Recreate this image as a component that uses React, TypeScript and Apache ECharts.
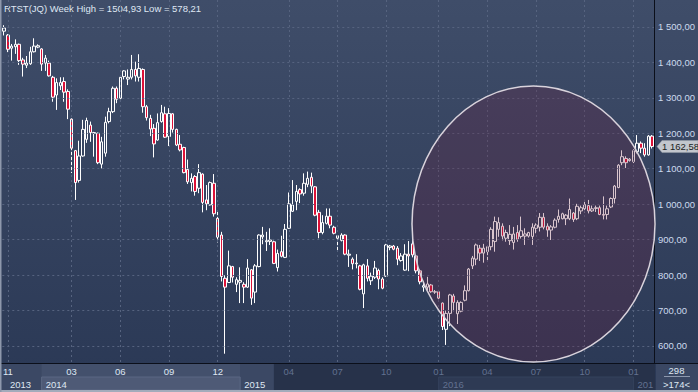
import React, { useEffect, useRef } from 'react';
import * as echarts from 'echarts';

// Weekly candles, index 0 = first visible week (late Oct 2013)
const opens = [
  1488, 1477, 1440, 1444, 1451, 1407, 1392, 1396, 1430, 1443,
  1438, 1398, 1398, 1358, 1308, 1334, 1346, 1318, 1240, 1151,
  1067, 1136, 1183, 1223, 1200, 1200, 1113, 1144, 1233, 1261,
  1327, 1299, 1360, 1353, 1358, 1380, 1358, 1380, 1275, 1242,
  1214, 1181, 1233, 1255, 1191, 1255, 1211, 1169, 1160, 1098,
  1061, 1078, 1045, 1085, 1012, 998, 1059, 960, 913, 791,
  779, 824, 774, 780, 774, 766, 815, 752, 824, 908,
  894, 895, 894, 821, 866, 850, 932, 980, 1008, 1041,
  1031, 1056, 1076, 1049, 977, 920, 946, 966, 935, 904,
  898, 913, 856, 845, 832, 826, 747, 826, 784, 794,
  813, 789, 797, 878, 882, 876, 841, 814, 859, 888,
  854, 812, 766, 766, 772, 752, 753, 721, 647, 692,
  741, 691, 698, 729, 756, 826, 845, 876, 862, 866,
  880, 895, 929, 938, 904, 897, 892, 920, 909, 910,
  910, 909, 932, 935, 963, 938, 927, 935, 957, 959,
  959, 959, 975, 959, 981, 987, 996, 981, 988, 990,
  971, 971, 992, 1016, 1047, 1117, 1129, 1123, 1120, 1148,
  1172, 1158, 1139, 1192,
];
const closes = [
  1497, 1437, 1446, 1451, 1405, 1395, 1398, 1430, 1446, 1447,
  1395, 1412, 1362, 1302, 1343, 1343, 1316, 1268, 1158, 1061,
  1136, 1211, 1236, 1202, 1202, 1117, 1176, 1231, 1261, 1327,
  1296, 1358, 1376, 1358, 1380, 1362, 1383, 1275, 1244, 1212,
  1170, 1230, 1258, 1189, 1256, 1211, 1167, 1153, 1089, 1063,
  1073, 1036, 1089, 1005, 1001, 1061, 973, 907, 796, 766,
  826, 794, 787, 785, 766, 820, 735, 826, 913, 913,
  897, 899, 833, 861, 853, 929, 1001, 998, 1036, 1029,
  1059, 1073, 1051, 969, 920, 948, 966, 941, 918, 911,
  913, 859, 859, 832, 834, 760, 829, 791, 797, 820,
  789, 763, 885, 882, 873, 845, 854, 859, 854, 857,
  812, 781, 770, 775, 753, 753, 735, 655, 692, 744,
  723, 723, 723, 756, 817, 848, 885, 862, 876, 880,
  929, 951, 948, 910, 920, 915, 916, 901, 925, 916,
  920, 935, 941, 963, 935, 927, 936, 955, 966, 973,
  969, 985, 957, 994, 990, 999, 981, 987, 990, 971,
  969, 987, 1016, 1051, 1110, 1134, 1117, 1127, 1151, 1172,
  1158, 1139, 1192, 1162.58,
];
const lows = [
  1476, 1429, 1405, 1424, 1393, 1360, 1384, 1393, 1428, 1440,
  1376, 1376, 1360, 1289, 1266, 1322, 1289, 1240, 1088, 1012,
  1061, 1134, 1173, 1176, 1134, 1113, 1101, 1134, 1228, 1257,
  1285, 1296, 1352, 1336, 1352, 1346, 1346, 1258, 1236, 1192,
  1132, 1179, 1230, 1187, 1164, 1202, 1164, 1149, 1087, 1057,
  1036, 1024, 1031, 977, 983, 996, 965, 892, 782, 578.21,
  779, 779, 752, 721, 721, 764, 716, 721, 822, 887,
  868, 885, 831, 810, 850, 848, 930, 978, 983, 1003,
  1024, 1048, 1031, 966, 904, 915, 943, 932, 915, 866,
  895, 856, 823, 816, 819, 757, 707, 782, 772, 789,
  760, 760, 795, 870, 870, 828, 838, 812, 811, 850,
  805, 774, 753, 758, 750, 747, 732, 645, 603, 656,
  698, 662, 695, 726, 754, 817, 828, 840, 835, 838,
  870, 866, 908, 898, 894, 885, 872, 894, 903, 885,
  906, 885, 918, 923, 929, 908, 899, 932, 948, 957,
  941, 955, 950, 955, 972, 977, 974, 978, 978, 969,
  957, 957, 989, 1002, 1045, 1110, 1102, 1120, 1116, 1143,
  1144, 1134, 1137, 1157,
];
const highs = [
  1504.93, 1480, 1452, 1465, 1453, 1413, 1418, 1444, 1468, 1451,
  1440, 1421, 1405, 1362, 1355, 1358, 1358, 1324, 1242, 1153,
  1179, 1238, 1244, 1233, 1204, 1202, 1190, 1247, 1272, 1332,
  1332, 1360, 1378, 1380, 1421, 1402, 1423, 1383, 1280, 1252,
  1226, 1256, 1280, 1275, 1271, 1257, 1213, 1195, 1162, 1126,
  1087, 1082, 1113, 1087, 1054, 1064, 1085, 983, 922, 800,
  869, 826, 794, 822, 780, 845, 817, 831, 915, 936,
  922, 932, 897, 872, 911, 944, 1033, 1068, 1054, 1045,
  1087, 1092, 1089, 1051, 984, 969, 988, 988, 939, 913,
  918, 915, 872, 850, 859, 829, 832, 845, 807, 840,
  818, 794, 888, 885, 885, 882, 862, 887, 896, 899,
  857, 816, 781, 795, 775, 758, 758, 723, 700, 747,
  747, 729, 726, 771, 820, 854, 889, 885, 888, 883,
  935, 965, 963, 946, 928, 941, 936, 941, 965, 932,
  922, 946, 946, 975, 975, 946, 941, 960, 985, 976,
  972, 1016, 978, 1001, 996, 1012, 1012, 996, 996, 996,
  1022, 996, 1019, 1054, 1113, 1152, 1135, 1130, 1155, 1195,
  1177, 1172, 1195, 1195,
];

// Bottom axis: month ticks (by week index) and year bands
const monthTickIndex = [1, 18, 31, 44, 57, 76, 89, 102, 116, 129, 142, 155, 168];
const monthTickLabel = ['11', '03', '06', '09', '12', '04', '07', '10', '01', '04', '07', '10', '01'];
const yearStartIndex = [10, 63, 116, 168];
const yearLabel = ['2014', '2015', '2016', '201'];
const firstYearLabel = '2013';
const activeEndIndex = 72;
const yTicks = [600, 700, 800, 900, 1000, 1100, 1200, 1300, 1400, 1500];
const totalBars = 298;

const FONT = 'Liberation Sans, Arial, sans-serif';
const BRIGHT = '#dfe7f3';
const DIM = '#627190';

function fmtAxis(v: number): string {
  const [i, d] = v.toFixed(2).split('.');
  return i.replace(/\B(?=(\d{3})+(?!\d))/g, ' ') + ',' + d;
}
function fmtPlain(v: number): string {
  return v.toFixed(2).replace('.', ',');
}

export default function App() {
  const ref = useRef<HTMLDivElement>(null);
  useEffect(() => {
    document.body.style.margin = '0';
    const chart = echarts.init(ref.current!, null, { renderer: 'svg' });
    const cats = opens.map((_, i) => String(i));
    const data = opens.map((o, i) => [o, closes[i], lows[i], highs[i]]);
    const hi = Math.max(...highs);
    const lo = Math.min(...lows);
    const W = 698, H = 392;
    const gridRight = 43, gridBottom = 29;
    const axisX = W - gridRight;
    const axisY = H - gridBottom;

    chart.setOption({
      animation: false,
      backgroundColor: new echarts.graphic.LinearGradient(0, 0, 0, 1, [
        { offset: 0, color: '#3f4d69' },
        { offset: 1, color: '#2a3855' },
      ]),
      title: {
        text: `RTST(JQ) Week High = ${fmtPlain(hi)} Low = ${fmtPlain(lo)}`,
        left: 4,
        top: 3,
        padding: 0,
        textStyle: { color: BRIGHT, fontSize: 9.5, fontWeight: 'normal', fontFamily: FONT },
      },
      grid: { left: 2, right: gridRight, top: 0, bottom: gridBottom },
      xAxis: {
        type: 'category',
        data: cats,
        boundaryGap: true,
        z: 10,
        axisLine: { show: true, lineStyle: { color: '#0b0f1a', width: 1 } },
        axisTick: { show: false, alignWithLabel: true },
        axisLabel: {
          interval: (index: number) => monthTickIndex.includes(index),
          formatter: (_v: string, index: number) => {
            const k = monthTickIndex.indexOf(index);
            return k >= 0 ? monthTickLabel[k] : '';
          },
          color: (v: string) => (Number(v) > activeEndIndex ? DIM : BRIGHT),
          fontSize: 9.5,
          fontFamily: FONT,
          margin: 3,
        },
        splitLine: {
          show: true,
          alignWithLabel: true,
          interval: (index: number) => monthTickIndex.includes(index),
          lineStyle: { color: '#56637f', type: [2, 3], width: 1 },
        },
      },
      yAxis: {
        type: 'value',
        position: 'right',
        min: 552,
        max: 1576,
        z: 10,
        axisLine: { show: true, lineStyle: { color: '#0b0f1a', width: 1 } },
        axisTick: { show: false, customValues: yTicks },
        axisLabel: {
          customValues: yTicks,
          formatter: (v: number) => fmtAxis(v),
          color: '#cddaee',
          fontSize: 9.5,
          fontFamily: FONT,
          margin: 4,
        },
        splitLine: {
          show: true,
          lineStyle: { color: '#56637f', type: [2, 3], width: 1 },
        },
      },
      series: [
        {
          type: 'candlestick',
          data,
          barWidth: 3,
          itemStyle: {
            color: 'rgba(0,0,0,0)',
            color0: '#dc1238',
            borderColor: '#ffffff',
            borderColor0: '#ffffff',
            borderWidth: 1,
          },
        },
      ],
    });

    const px = (i: number) => chart.convertToPixel({ xAxisIndex: 0 }, i) as number;
    const py = (v: number) => chart.convertToPixel({ yAxisIndex: 0 }, v) as number;
    const lastClose = closes[closes.length - 1];
    const ly = py(lastClose);
    const activeEnd = px(activeEndIndex);
    const rowTop = axisY + 1;
    const rowMid = axisY + 14;
    const rowBot = H - 2;

    const g: any[] = [];
    // bottom axis area
    g.push({ type: 'rect', z: 1, shape: { x: 0, y: rowTop, width: axisX, height: rowBot - rowTop }, style: { fill: '#27324a' } });
    g.push({ type: 'rect', z: 1, shape: { x: 0, y: rowTop, width: activeEnd, height: rowBot - rowTop }, style: { fill: '#3b4864' } });
    // year boxes
    const yStarts = yearStartIndex.map((i) => px(i));
    const b2014 = yStarts[0], b2015 = yStarts[1];
    g.push({ type: 'rect', z: 2, shape: { x: b2014, y: rowTop, width: b2015 - b2014, height: rowBot - rowTop }, style: { fill: '#43506c' } });
    g.push({ type: 'rect', z: 2, shape: { x: b2014, y: rowMid, width: b2015 - b2014, height: rowBot - rowMid }, style: { fill: '#4e5a76', stroke: '#5b6783', lineWidth: 1 } });
    g.push({ type: 'rect', z: 2, shape: { x: yStarts[2], y: rowMid, width: yStarts[3] - yStarts[2], height: rowBot - rowMid }, style: { fill: '#2e3a54', stroke: '#35425c', lineWidth: 1 } });
    g.push({ type: 'text', z: 20, style: { x: 10, y: rowMid + 7, text: firstYearLabel, fill: BRIGHT, font: `9.5px ${FONT}`, verticalAlign: 'middle' } });
    yearLabel.forEach((t, k) => {
      const x = yStarts[k] + 4;
      const bright = yearStartIndex[k] <= activeEndIndex;
      g.push({ type: 'text', z: 20, style: { x, y: rowMid + 7, text: t, fill: bright ? BRIGHT : DIM, font: `9.5px ${FONT}`, verticalAlign: 'middle' } });
    });
    // bottom-right box
    g.push({ type: 'rect', z: 1, shape: { x: axisX + 1, y: rowTop, width: W - axisX - 1, height: rowBot - rowTop }, style: { fill: '#3a4763' } });
    g.push({ type: 'line', z: 20, shape: { x1: 0, y1: axisY + 0.5, x2: W, y2: axisY + 0.5 }, style: { stroke: '#0b0f1a', lineWidth: 1 } });
    g.push({ type: 'text', z: 20, style: { x: (axisX + W) / 2, y: rowTop + 6, text: String(totalBars), fill: BRIGHT, font: `9.5px ${FONT}`, align: 'center', verticalAlign: 'middle' } });
    g.push({ type: 'line', z: 20, shape: { x1: axisX + 9, y1: rowMid - 0.5, x2: W - 8, y2: rowMid - 0.5 }, style: { stroke: '#8d98ad', lineWidth: 1 } });
    g.push({ type: 'text', z: 20, style: { x: (axisX + W) / 2, y: rowMid + 7, text: `>${opens.length}<`, fill: BRIGHT, font: `9.5px ${FONT}`, align: 'center', verticalAlign: 'middle' } });
    // frame
    g.push({ type: 'rect', z: 30, shape: { x: 0, y: H - 2, width: W, height: 2 }, style: { fill: '#a3abbb' } });
    g.push({ type: 'rect', z: 30, shape: { x: 0, y: 0, width: 1.5, height: H }, style: { fill: '#8e98ac' } });
    // highlight ellipse
    g.push({
      type: 'ellipse',
      z: 50,
      shape: { cx: 533.5, cy: 224, rx: 121.5, ry: 138 },
      style: { fill: 'rgba(110,30,62,0.26)', stroke: '#d9d3dc', lineWidth: 1.5 },
    });
    // last price tag
    g.push({
      type: 'polygon',
      z: 60,
      shape: { points: [[axisX + 2, ly], [axisX + 7, ly - 6], [W, ly - 6], [W, ly + 6], [axisX + 7, ly + 6]] },
      style: { fill: '#c2c6cd', stroke: '#9aa0aa', lineWidth: 0.5 },
    });
    g.push({ type: 'text', z: 61, style: { x: axisX + 7, y: ly, text: fmtAxis(lastClose), fill: '#1b1d22', font: `9.5px ${FONT}`, verticalAlign: 'middle' } });

    chart.setOption({ graphic: g });
    return () => chart.dispose();
  }, []);
  return <div ref={ref} style={{ position: 'fixed', left: 0, top: 0, width: 698, height: 392 }} />;
}
